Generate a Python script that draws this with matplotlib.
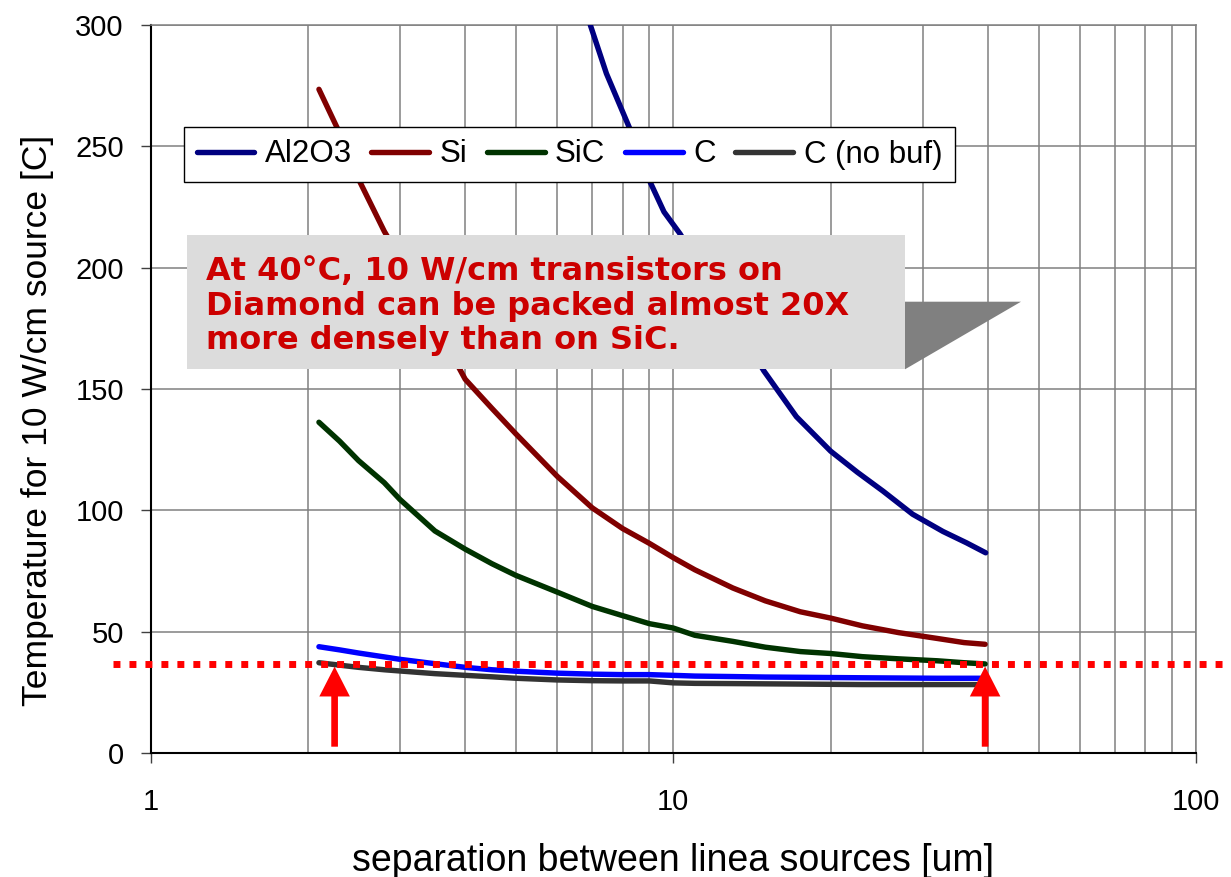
import matplotlib
matplotlib.use("Agg")
import matplotlib.pyplot as plt
import matplotlib.transforms as mtransforms
from matplotlib.patches import Rectangle, Polygon
from matplotlib.ticker import FixedLocator, FixedFormatter, NullFormatter, LogLocator

# separation between line sources [um]
sep = [2.1, 2.3, 2.5, 2.8, 3.0, 3.5, 4.0, 4.5, 5.0, 6.0, 7.0, 8.0, 9.0,
       10, 11, 13, 15, 17.5, 20, 23, 27, 32, 36, 39.5]

# peak temperature [C] for a 10 W/cm source, per substrate
t_si = [273.5, 255.5, 236.5, 215, 204, 177, 154, 142, 131.5, 114, 101, 92.5,
        86.4, 80.5, 75.5, 68, 62.7, 58.2, 55.6, 52.4, 49.6, 47.2, 45.5, 44.8]
t_sic = [136.3, 128.5, 120.5, 111.4, 104.5, 91.5, 84, 78, 73.2, 66.3, 60.4,
         56.6, 53.3, 51.5, 48.5, 46, 43.6, 41.8, 41, 39.7, 38.8, 38, 37.2, 36.7]
t_c = [43.8, 42.5, 41.2, 39.6, 38.6, 36.8, 35.3, 34.3, 33.7, 32.9, 32.5, 32.3,
       32.3, 32.0, 31.7, 31.5, 31.3, 31.2, 31.1, 31.0, 30.9, 30.8, 30.8, 30.8]
t_c_nobuf = [37.2, 36.2, 35.3, 34.3, 33.8, 32.7, 32.0, 31.4, 30.8, 30.1, 29.8,
             29.7, 29.7, 28.9, 28.7, 28.6, 28.5, 28.4, 28.3, 28.2, 28.2, 28.2,
             28.2, 28.2]

# Al2O3 is off the scale below ~7 um
sep_al2o3 = [6.94, 7.45, 8.25, 9.0, 9.6, 10.3, 11, 12, 13.5, 14.9, 17.2, 20,
             22.5, 25.2, 28.7, 32.8, 36.4, 39.6]
t_al2o3 = [300, 280, 257.5, 236, 223, 214, 204, 191, 173, 157.5, 138.6, 124.4,
           115.7, 107.9, 98.4, 91.3, 86.6, 82.5]

series = [
    ("Al2O3", sep_al2o3, t_al2o3, "#000080"),
    ("Si", sep, t_si, "#800000"),
    ("SiC", sep, t_sic, "#003300"),
    ("C", sep, t_c, "#0000FF"),
    ("C (no buf)", sep, t_c_nobuf, "#333333"),
]

t_target = 36.5
arrow_sep = [2.25, 39.5]
arrow_tip, arrow_tail = 35.6, 2.6

note = ("At 40\u00b0C, 10 W/cm transistors on\n"
        "Diamond can be packed almost 20X\n"
        "more densely than on SiC.")

plt.rcParams["font.family"] = ["Liberation Sans", "DejaVu Sans"]

W, H = 1231, 877
fig = plt.figure(figsize=(W / 100, H / 100), dpi=100)
ax = fig.add_axes([150.5 / W, 1 - 753 / H, (1196 - 150.5) / W, (753 - 25) / H])

for name, x, y, col in series:
    ax.plot(x, y, color=col, lw=3.9, label=name,
            solid_capstyle="round", solid_joinstyle="round", zorder=3)

ax.set_xscale("log")
ax.set_xlim(1, 100)
ax.set_ylim(0, 300)
ax.set_yticks(range(0, 301, 50))
ax.xaxis.set_major_locator(FixedLocator([1, 10, 100]))
ax.xaxis.set_major_formatter(FixedFormatter(["1", "10", "100"]))
ax.xaxis.set_minor_locator(LogLocator(base=10, subs=range(2, 10)))
ax.xaxis.set_minor_formatter(NullFormatter())

gridc = "#808080"
ax.grid(True, which="major", color=gridc, lw=1.1, zorder=0)
ax.grid(True, which="minor", axis="x", color=gridc, lw=1.1, zorder=0)
ax.set_axisbelow(True)
for s in ["left", "bottom"]:
    ax.spines[s].set_color("#000000")
    ax.spines[s].set_linewidth(1.5)
for s in ["top", "right"]:
    ax.spines[s].set_color(gridc)
    ax.spines[s].set_linewidth(1.1)

ax.tick_params(axis="y", which="major", direction="out", length=7.2, width=1,
               color="#404040", pad=12, labelsize=21)
ax.tick_params(axis="x", which="major", direction="out", length=7.2, width=1,
               color="#404040", pad=18, labelsize=21)
ax.tick_params(axis="x", which="minor", length=0)

ax.set_ylabel("Temperature for 10 W/cm source [C]", fontsize=25.5)
ax.yaxis.set_label_coords(38 / W, 1 - 420 / H, transform=fig.transFigure)
ax.yaxis.label.set_verticalalignment("center")
ax.set_xlabel("separation between linea sources [um]", fontsize=27)
ax.xaxis.set_label_coords(672.5 / W, 1 - 861 / H, transform=fig.transFigure)
ax.xaxis.label.set_verticalalignment("center")

leg = ax.legend(loc="upper left", bbox_to_anchor=(184 / W, 1 - 127 / H),
                bbox_transform=fig.transFigure, ncol=5, fontsize=22.5,
                frameon=True, fancybox=False, framealpha=1, borderaxespad=0,
                borderpad=0.4, handlelength=1.85, handletextpad=0.33,
                columnspacing=0.63)
leg.get_frame().set_edgecolor("#000000")
leg.get_frame().set_linewidth(1.0)
leg.set_zorder(6)

# dotted 40 C guide, running from left of the axis to the figure edge
blend = mtransforms.blended_transform_factory(fig.transFigure, ax.transData)
ax.plot([113 / W, 1.0], [t_target, t_target], transform=blend, color="#FF0000",
        lw=5, linestyle=(0, (1, 1.3)), dash_capstyle="butt", clip_on=False,
        zorder=4)

for xa in arrow_sep:
    ax.annotate("", xy=(xa, arrow_tip), xytext=(xa, arrow_tail),
                arrowprops=dict(width=4.8, headwidth=22, headlength=21.5,
                                shrink=0, facecolor="#FF0000",
                                edgecolor="none"),
                zorder=7, annotation_clip=False)

# callout box
fig.add_artist(Rectangle((186.5 / W, 1 - 369.3 / H), (905 - 186.5) / W,
                         (369.3 - 235) / H, transform=fig.transFigure,
                         facecolor="#DCDCDC", edgecolor="none", zorder=5))
fig.add_artist(Polygon([(905 / W, 1 - 301.7 / H), (1021 / W, 1 - 301.7 / H),
                        (905 / W, 1 - 369.3 / H)], closed=True,
                       transform=fig.transFigure, facecolor="#808080",
                       edgecolor="none", zorder=5))
# baseline anchor sits on the last line of the note
fig.text(206 / W, 1 - 349.5 / H, note, family="DejaVu Sans", weight="bold",
         fontsize=23, color="#CC0000", va="baseline", ha="left",
         linespacing=1.15, zorder=6)

fig.savefig("out.png", dpi=100)
